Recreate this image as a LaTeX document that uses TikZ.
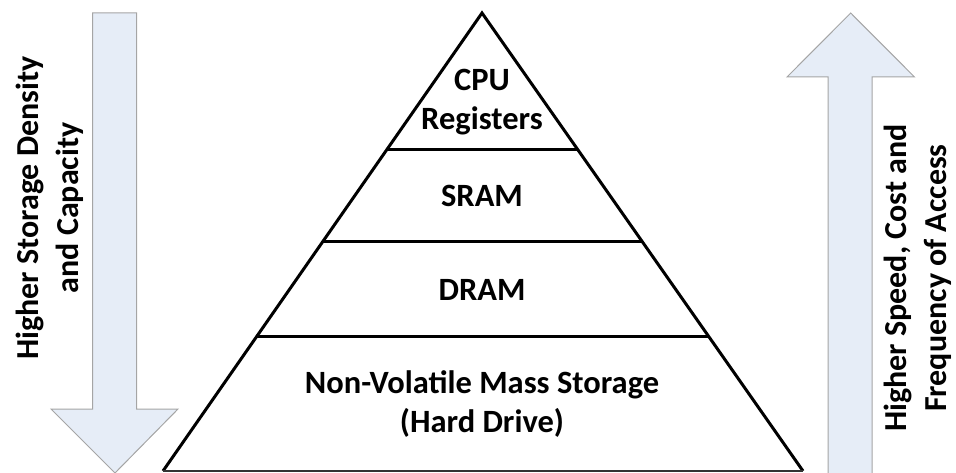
\documentclass[tikz,border=0pt]{standalone}
\usepackage{fontspec}
\setmainfont{Carlito}
\usepackage{xcolor}
\usetikzlibrary{calc,positioning}

\definecolor{arrowfill}{HTML}{E6EDF7}
\definecolor{arrowedge}{HTML}{A5A5A5}

\begin{document}
\begin{tikzpicture}[
    x=1pt, y=-1pt,
    % the big hollow arrows at both sides
    bigarrow/.style={fill=arrowfill, draw=arrowedge, line width=1pt, line join=miter},
    % the storage levels
    level/.style={line width=3pt},
    levellabel/.style={font=\bfseries\fontsize{32.5}{39}\selectfont, align=center, inner sep=0pt},
    sidelabel/.style={font=\bfseries\fontsize{32}{40}\selectfont, align=center, inner sep=0pt, rotate=90},
  ]
    \useasboundingbox (0,0) rectangle (956,473);
    \begin{scope}
      \clip (0,0) rectangle (956,473);
      % down arrow
      \draw[bigarrow] (92.7,13) -- (136.7,13) -- (136.7,409) -- (178,409)
        -- (115,473) -- (51,409) -- (92.7,409) -- cycle;
      % up arrow
      \draw[bigarrow] (850.7,13) -- (914.5,77) -- (872,77) -- (872,480)
        -- (828,480) -- (828,77) -- (787,77) -- cycle;

      % pyramid
      \coordinate (apex) at (482,13);
      \coordinate (bl) at (163,471);
      \coordinate (br) at (803,471);
      \draw[level, line join=miter] (bl) -- (apex) -- (br);
      \draw[line width=1.6pt, black!80] (bl) -- (br);
      \foreach \t in {0.299,0.5,0.707}
        \draw[level] ($(apex)!\t!(bl)$) -- ($(apex)!\t!(br)$);
    \end{scope}

    \node[levellabel] (cpu) at (482,102) {CPU\\Registers};
    \node[levellabel] (sram) at (482,196) {SRAM};
    \node[levellabel] (dram) at (482,290) {DRAM};
    \node[levellabel] (mass) at (482,404) {Non-Volatile Mass Storage\\(Hard Drive)};

    \node[sidelabel] (density) at (50,208) {Higher Storage Density\\and Capacity};
    \node[sidelabel] (speed) at (918,278) {Higher Speed, Cost and\\Frequency of Access};
  \end{tikzpicture}
\end{document}
